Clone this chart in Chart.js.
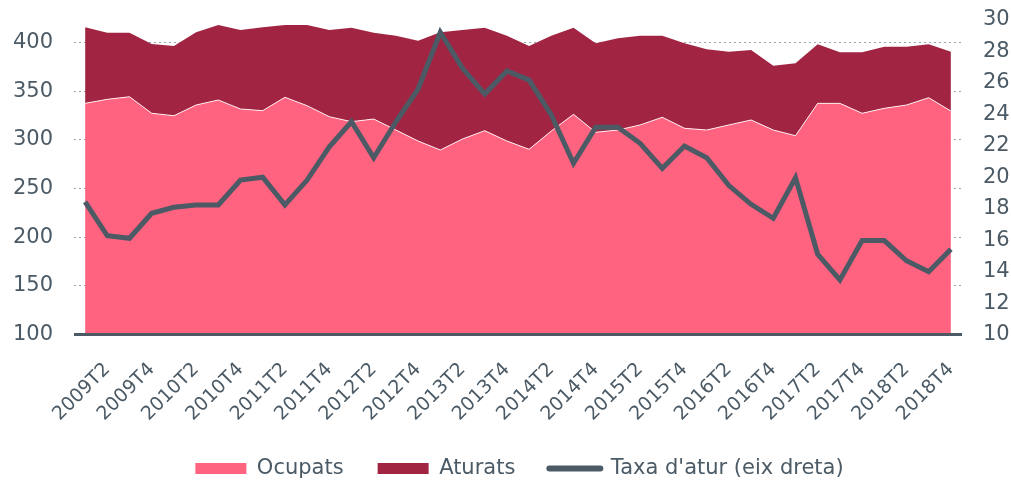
<!DOCTYPE html>
<html>
<head>
<meta charset="utf-8">
<script src="https://cdn.jsdelivr.net/npm/chart.js@4/dist/chart.umd.min.js"></script>
<style>
  html, body { margin: 0; padding: 0; background: #fff; }
  #wrap { width: 1011px; height: 481px; }
</style>
</head>
<body>
<div id="wrap"><canvas id="chart"></canvas></div>
<script>
  "use strict";

  const quarters = [
    "2009T1", "2009T2", "2009T3", "2009T4", "2010T1", "2010T2", "2010T3", "2010T4",
    "2011T1", "2011T2", "2011T3", "2011T4", "2012T1", "2012T2", "2012T3", "2012T4",
    "2013T1", "2013T2", "2013T3", "2013T4", "2014T1", "2014T2", "2014T3", "2014T4",
    "2015T1", "2015T2", "2015T3", "2015T4", "2016T1", "2016T2", "2016T3", "2016T4",
    "2017T1", "2017T2", "2017T3", "2017T4", "2018T1", "2018T2", "2018T3", "2018T4"
  ];

  // milers de persones
  const ocupats = [
    337.4, 341.5, 344.2, 327.2, 324.7, 335.7, 340.8, 331.6, 329.9, 343.6,
    335.0, 323.7, 318.6, 321.3, 310.0, 298.7, 289.5, 300.8, 309.3, 298.7,
    290.2, 309.0, 326.1, 307.7, 310.0, 315.2, 323.1, 311.8, 310.0, 315.2,
    320.3, 310.0, 304.2, 337.4, 337.4, 327.2, 332.3, 335.7, 343.2, 329.5
  ];
  const aturats = [
    78.1, 68.5, 65.8, 71.2, 71.6, 74.7, 77.1, 81.1, 85.6, 74.3,
    82.9, 89.0, 96.5, 88.7, 96.9, 103.0, 120.9, 111.9, 105.8, 108.2,
    106.1, 97.9, 89.0, 91.4, 94.2, 91.7, 83.8, 87.3, 82.9, 75.2,
    71.9, 66.1, 74.3, 60.6, 52.4, 62.6, 63.3, 59.9, 54.8, 60.9
  ];
  // %
  const taxaAtur = [
    18.44, 16.28, 16.12, 17.71, 18.09, 18.24, 18.24, 19.82, 20.0, 18.24,
    19.82, 21.94, 23.53, 21.24, 23.53, 25.61, 29.22, 26.93, 25.29, 26.76,
    26.18, 23.96, 20.89, 23.18, 23.18, 22.16, 20.57, 21.99, 21.24, 19.47,
    18.28, 17.39, 19.97, 15.10, 13.47, 15.97, 15.97, 14.69, 13.99, 15.42
  ];

  const leftTicks = [100, 150, 200, 250, 300, 350, 400];
  const rightTicks = [10, 12, 14, 16, 18, 20, 22, 24, 26, 28, 30];

  const TEXT = "#4b5a65";
  const PINK = "#ff6380";
  const WINE = "#a12542";
  const LINE = "#4b5a64";
  const NONE = "rgba(0,0,0,0)";

  Chart.defaults.font.family = "'DejaVu Sans', sans-serif";
  Chart.defaults.color = TEXT;

  // legend: wide gaps between items but a short box, nudged right
  const legendFit = {
    id: "legendFit",
    beforeInit(chart) {
      if (!chart.legend) return;
      const fit = chart.legend.fit;
      chart.legend.fit = function () {
        fit.call(this);
        this.height -= 8;
      };
    },
    afterLayout(chart) {
      if (!chart.legend) return;
      chart.legend.left += 14;
      chart.legend.right += 14;
    }
  };

  // axis line runs over the whole plot width
  const baseLine = {
    id: "baseLine",
    afterDatasetsDraw(chart) {
      const { ctx, chartArea } = chart;
      const y = chart.scales.y.getPixelForValue(leftTicks[0]);
      ctx.save();
      ctx.strokeStyle = LINE;
      ctx.lineWidth = 3;
      ctx.beginPath();
      ctx.moveTo(chartArea.left, y);
      ctx.lineTo(chartArea.right, y);
      ctx.stroke();
      ctx.restore();
    }
  };

  new Chart(document.getElementById("chart"), {
    type: "line",
    data: {
      labels: quarters,
      datasets: [
        {
          label: "Ocupats",
          data: ocupats,
          yAxisID: "y",
          backgroundColor: PINK,
          borderColor: "rgba(255,255,255,0.85)",
          borderWidth: 1,
          pointRadius: 0,
          fill: "start",
          order: 0
        },
        {
          label: "Aturats",
          data: aturats,
          yAxisID: "y",
          backgroundColor: WINE,
          borderColor: WINE,
          borderWidth: 0,
          pointRadius: 0,
          fill: "-1",
          order: 0
        },
        {
          label: "Taxa d'atur (eix dreta)",
          data: taxaAtur,
          yAxisID: "y1",
          borderColor: LINE,
          backgroundColor: LINE,
          borderWidth: 5,
          pointRadius: 0,
          fill: false,
          order: -1
        }
      ]
    },
    options: {
      responsive: true,
      maintainAspectRatio: false,
      animation: false,
      layout: { padding: { top: 20, left: 0, right: 0, bottom: 0 } },
      plugins: {
        tooltip: { enabled: false },
        legend: {
          position: "bottom",
          labels: {
            usePointStyle: true,
            pointStyleWidth: 51,
            boxHeight: 11,
            padding: 34,
            color: TEXT,
            font: { size: 21 },
            generateLabels(chart) {
              const items = Chart.defaults.plugins.legend.labels.generateLabels(chart);
              items.sort((a, b) => a.datasetIndex - b.datasetIndex);
              items.forEach(it => {
                const ds = chart.data.datasets[it.datasetIndex];
                if (ds.fill === false) {
                  it.pointStyle = "line";
                  it.strokeStyle = ds.borderColor;
                  it.lineWidth = 6;
                  it.lineCap = "round";
                } else {
                  it.pointStyle = "rect";
                  it.fillStyle = ds.backgroundColor;
                  it.lineWidth = 0;
                  it.strokeStyle = NONE;
                }
              });
              return items;
            }
          }
        }
      },
      scales: {
        x: {
          offset: true,
          grid: { display: false },
          border: { display: false },
          afterFit: (scale) => { scale.height = 89.5; },
          ticks: {
            autoSkip: false,
            minRotation: 45,
            maxRotation: 45,
            padding: 16,
            color: TEXT,
            font: { size: 19 },
            callback: function (value, index) {
              return index % 2 === 1 ? this.getLabelForValue(value) : "";
            }
          }
        },
        y: {
          position: "left",
          stacked: true,
          min: 100,
          max: 423,
          afterBuildTicks: (scale) => {
            scale.ticks = leftTicks.map(v => ({ value: v }));
          },
          afterFit: (scale) => { scale.width = 74; },
          grid: { color: "#9aa3a9", lineWidth: 1, drawTicks: true, tickLength: 21, tickColor: NONE },
          border: { display: false, dash: [2, 3] },
          ticks: { padding: 0, color: TEXT, font: { size: 21 } }
        },
        y1: {
          position: "right",
          stacked: false,
          min: 10,
          max: 30,
          afterBuildTicks: (scale) => {
            scale.ticks = rightTicks.map(v => ({ value: v }));
          },
          afterFit: (scale) => { scale.width = 49; },
          grid: { color: NONE, drawTicks: true, tickLength: 21, tickColor: NONE },
          border: { display: false },
          ticks: { padding: 0, color: TEXT, font: { size: 21 } }
        }
      }
    },
    plugins: [legendFit, baseLine]
  });
</script>
</body>
</html>
